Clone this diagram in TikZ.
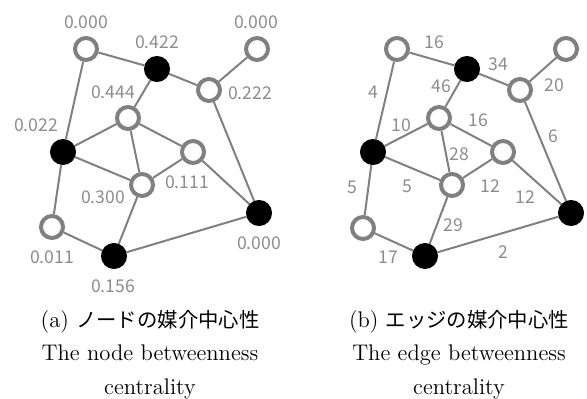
\documentclass[tikz,border=0pt]{standalone}
\usepackage{fontspec}
\newfontfamily\jpfont[Scale=0.9]{Noto Sans CJK JP}
\newfontfamily\lblfont{Noto Sans CJK JP}
\definecolor{edgegray}{RGB}{128,128,128}
\definecolor{txtgray}{RGB}{140,140,140}
\begin{document}
\begin{tikzpicture}[x=0.5pt,y=-0.5pt,
  openv/.style={circle, draw=edgegray, fill=white, line width=2pt, minimum size=11pt, inner sep=0pt},
  blackv/.style={circle, draw=black, fill=black, line width=2pt, minimum size=11pt, inner sep=0pt},
  link/.style={draw=edgegray, line width=1pt},
  lbl/.style={font=\lblfont\fontsize{8.8pt}{10pt}\selectfont, text=txtgray, inner sep=0pt},
  captext/.style={font=\fontsize{11.3pt}{13pt}\selectfont, inner sep=0pt}]
\useasboundingbox (0,0) rectangle (587,399);

% ---------- (a) node betweenness ----------
\node[openv]  (la) at (86,49) {};
\node[blackv] (lb) at (157,69) {};
\node[openv]  (lc) at (257,49) {};
\node[openv]  (ld) at (209,90) {};
\node[openv]  (le) at (128,118) {};
\node[blackv] (lf) at (63,152) {};
\node[openv]  (lg) at (193,152) {};
\node[openv]  (lh) at (142,185) {};
\node[openv]  (li) at (52,227) {};
\node[blackv] (lj) at (114,256) {};
\node[blackv] (lk) at (259,213) {};
\foreach \s/\t in {la/lb, la/lf, lb/ld, lb/le, lc/ld, ld/lk, le/lf, le/lg, le/lh, lf/lh, lf/li, lg/lh, lg/lk, lh/lj, li/lj, lj/lk}
  \draw[link] (\s) -- (\t);

\node[lbl] (tla) at (86,22) {0.000};
\node[lbl] (tlb) at (157,42) {0.422};
\node[lbl] (tlc) at (256,22) {0.000};
\node[lbl] (tld) at (250,93) {0.222};
\node[lbl] (tle) at (113,92) {0.444};
\node[lbl] (tlf) at (36,125) {0.022};
\node[lbl] (tlg) at (187,182) {0.111};
\node[lbl] (tlh) at (103,197) {0.300};
\node[lbl] (tli) at (52,257) {0.011};
\node[lbl] (tlj) at (113,286) {0.156};
\node[lbl] (tlk) at (259,243) {0.000};

% ---------- (b) edge betweenness ----------
\node[openv]  (ra) at (397,49) {};
\node[blackv] (rb) at (467,69) {};
\node[openv]  (rc) at (566,49) {};
\node[openv]  (rd) at (520,90) {};
\node[openv]  (re) at (439,118) {};
\node[blackv] (rf) at (373,152) {};
\node[openv]  (rg) at (503,152) {};
\node[openv]  (rh) at (452,185) {};
\node[openv]  (ri) at (363,228) {};
\node[blackv] (rj) at (425,256) {};
\node[blackv] (rk) at (571,213) {};
\foreach \s/\t in {ra/rb, ra/rf, rb/rd, rb/re, rc/rd, rd/rk, re/rf, re/rg, re/rh, rf/rh, rf/ri, rg/rh, rg/rk, rh/rj, ri/rj, rj/rk}
  \draw[link] (\s) -- (\t);

\node[lbl] (tab) at (434,42) {16};
\node[lbl] (tbd) at (498,64) {34};
\node[lbl] (tbe) at (441,86) {46};
\node[lbl] (tcd) at (554,85) {20};
\node[lbl] (taf) at (373,92) {4};
\node[lbl] (tef) at (401,125) {10};
\node[lbl] (teg) at (478,120) {16};
\node[lbl] (tdk) at (553,136) {6};
\node[lbl] (teh) at (459,154) {28};
\node[lbl] (tfi) at (352,187) {5};
\node[lbl] (tfh) at (407,186) {5};
\node[lbl] (tgh) at (490,186) {12};
\node[lbl] (tgk) at (525,197) {12};
\node[lbl] (thj) at (453,225) {29};
\node[lbl] (tij) at (388,257) {17};
\node[lbl] (tjk) at (503,252) {2};

% ---------- captions ----------
\node[captext, anchor=base] (capa1) at (150,327.5) {(a) {\jpfont ノードの媒介中心性}};
\node[captext, anchor=base] (capa2) at (150,360.7) {The node betweenness};
\node[captext, anchor=base] (capa3) at (150,394) {centrality};
\node[captext, anchor=base] (capb1) at (459,327.5) {(b) {\jpfont エッジの媒介中心性}};
\node[captext, anchor=base] (capb2) at (459,360.7) {The edge betweenness};
\node[captext, anchor=base] (capb3) at (459,394) {centrality};
\end{tikzpicture}
\end{document}
